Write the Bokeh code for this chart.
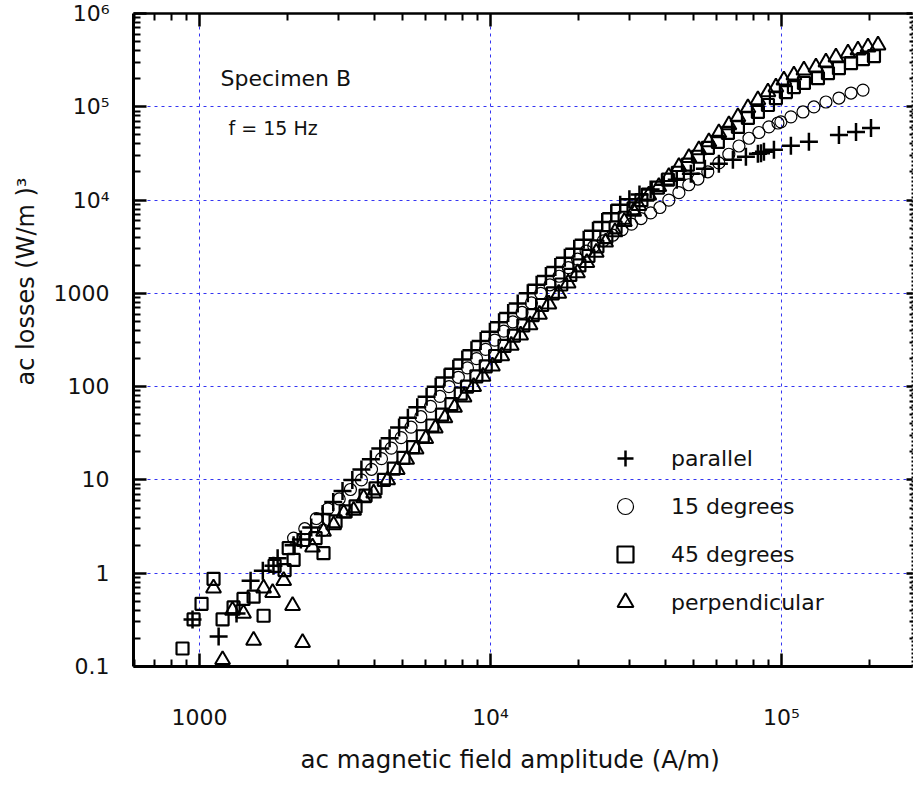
import math
from bokeh.plotting import figure
from bokeh.models import Range1d, LogAxis, FixedTicker, Label, Legend, LegendItem, Title
from bokeh.embed import file_html
from bokeh.resources import INLINE

# ---------------- data ----------------
par_H = [946, 1163, 1340, 1498, 1650, 1795, 1855, 2105, 2230, 2420, 2650, 2880, 3100, 3350,
         3600, 3880, 4180, 4500, 4850, 5200, 5600, 6030, 6480, 6950, 7450, 8000, 8600, 9250,
         9950, 10700, 11500, 12400, 13430, 14400, 15500, 16700, 18000, 19400, 20900, 22500,
         24200, 26000, 27900, 30000, 32500, 35500, 39400, 43650, 48800, 54530, 60910, 68070,
         75440, 82950, 85000, 87000, 94170, 107700, 124200, 157500, 180300, 203000]
par_P = [0.32, 0.21, 0.37, 0.83, 1.06, 1.2, 1.45, 2.0, 2.3, 3.1, 4.3, 5.8, 7.6, 10,
         12.9, 16.7, 21.7, 28.0, 36.4, 46.4, 60.1, 77.8, 100, 125, 156, 195, 245, 308,
         388, 489, 614, 778, 1000, 1233, 1535, 1919, 2402, 3006, 3753, 4680,
         5820, 7210, 8910, 10200, 11500, 13000, 14630, 16550, 19180, 21680, 24540, 27050,
         29130, 31330, 31800, 32960, 34590, 38190, 42070, 49980, 53830, 59400]

d15_H = [2105, 2300, 2520, 2667, 2760, 3020, 3300, 3600, 3900, 4220, 4560, 4930, 5330, 5760,
         6220, 6700, 7200, 7750, 8330, 8950, 9620, 10340, 11100, 11930, 12830, 13820, 14880,
         16000, 17200, 18500, 19900, 21300, 22650, 24400, 26300, 28300, 30500, 32900, 35500,
         38200, 41000, 44400, 48000, 51600, 55800, 60900, 65900, 71400, 77300, 83600, 90500,
         97200, 99500, 107700, 118500, 129200, 142100, 157500, 173300, 190500]
d15_P = [2.38, 3.0, 3.86, 2.9, 4.9, 6.25, 7.9, 10, 13.0, 16.9, 21.9, 28.4, 36.8, 47.6,
         61.5, 78.7, 100, 126, 159, 200, 251, 315, 394, 495, 624, 790, 1000,
         1235, 1525, 1885, 2330, 2840, 3200, 3660, 4200, 4810, 5520, 6340, 7280,
         8320, 10000, 12000, 14600, 16800, 20100, 25000, 31000, 38000, 46000, 53000, 61000,
         67000, 69000, 78000, 88000, 99600, 112500, 124100, 140400, 151100]

d45_H = [874, 954, 1016, 1117, 1200, 1309, 1416, 1534, 1660, 1811, 1960, 2025, 2105, 2277,
         2505, 2667, 2934, 3177, 3437, 3720, 4025, 4300, 4650, 5020, 5420, 5850, 6310, 6810,
         7340, 7900, 8300, 8940, 9630, 10370, 11170, 12030, 12960, 13960, 15040, 16370, 17500,
         18800, 20200, 21700, 23300, 25000, 26900, 28900, 31000, 33000, 34720, 37580, 40680,
         44030, 47660, 51590, 55840, 60420, 65420, 70820, 76650, 82950, 89810, 95650, 103500,
         110300, 119400, 133400, 144400, 157500, 173300, 190500, 207800]
d45_P = [0.156, 0.32, 0.47, 0.87, 0.32, 0.43, 0.53, 0.56, 0.35, 1.2, 1.08, 1.86, 1.39, 2.27,
         2.38, 1.64, 3.6, 4.6, 5.2, 6.8, 8.1, 10, 13.2, 17.2, 22.5, 29.4, 38.3, 50.0,
         65.0, 84.0, 100, 129, 165, 213, 274, 352, 453, 583, 750, 1000, 1245,
         1575, 1995, 2525, 3190, 4010, 5100, 6460, 8130, 10000, 11450, 13590, 16550,
         19630, 23930, 29130, 36300, 42070, 52490, 60800, 75900, 88100, 104500, 124100, 143900,
         162600, 180000, 202800, 229500, 259200, 293100, 323600, 348400]

perp_H = [1117, 1200, 1298, 1416, 1534, 1660, 1783, 1946, 2088, 2260, 2445, 2667, 2890, 3130,
          3385, 3663, 3966, 4432, 4780, 5150, 5550, 5990, 6460, 6970, 7520, 8110, 8750, 9420,
          10150, 10930, 11780, 12690, 13670, 14730, 15870, 17160, 18480, 19900, 21430, 23080,
          24860, 26770, 28830, 31050, 32330, 34990, 37880, 41000, 44390, 48050, 52000, 56280,
          60910, 65940, 70820, 76650, 82950, 89810, 95650, 101900, 110300, 119400, 131300,
          142100, 153800, 169200, 183100, 198200, 214600]
perp_P = [0.69, 0.118, 0.40, 0.37, 0.19, 0.69, 0.62, 0.83, 0.45, 0.18, 1.9, 2.8, 3.3, 4.4,
          4.7, 6.4, 7.2, 10, 12.9, 16.6, 21.4, 27.7, 35.8, 46.3, 59.8, 77.3, 100, 129,
          166, 214, 276, 357, 460, 594, 766, 1000, 1288, 1660, 2135, 2747,
          3539, 4560, 5865, 7550, 8700, 11300, 13900, 17820, 22800, 28440, 34590, 42070,
          52490, 63960, 77840, 97100, 118300, 143900, 162600, 193200, 218500, 247200, 266000,
          300700, 339800, 375000, 403600, 434700, 457000]

series_names = ["parallel", "15 degrees", "45 degrees", "perpendicular"]

x_major = [1000, 10000, 100000]
y_major = [0.1, 1, 10, 100, 1000, 10000, 100000, 1000000]
x_labels = {1000: "1000", 10000: "10\u2074", 100000: "10\u2075"}
y_labels = {0.1: "0.1", 1: "1", 10: "10", 100: "100", 1000: "1000",
            10000: "10\u2074", 100000: "10\u2075", 1000000: "10\u2076"}

X_LO, X_HI = 593, 281900
Y_LO, Y_HI = 0.1, 1e6

x_minor = [m * 10.0 ** e for e in range(2, 6) for m in range(2, 10) if X_LO <= m * 10.0 ** e <= X_HI]
y_minor = [m * 10.0 ** e for e in range(-1, 6) for m in range(2, 10)]

FONT = "DejaVu Sans"
XLABEL = "ac magnetic field amplitude (A/m)"
YLABEL = "ac losses (W/m )\u00b3"

p = figure(width=913, height=785, x_axis_type="log", y_axis_type="log",
           x_range=Range1d(X_LO, X_HI), y_range=Range1d(Y_LO, Y_HI),
           output_backend="svg", toolbar_location=None,
           min_border_left=133, min_border_right=1, min_border_top=13, min_border_bottom=116)
p.outline_line_color = None
p.background_fill_color = "white"
p.border_fill_color = "white"

bottom_axis = p.below[0]
left_axis = p.left[0]

for g, ticks in ((p.xgrid[0], x_major), (p.ygrid[0], y_major)):
    g.ticker = FixedTicker(ticks=ticks)
    g.grid_line_color = "#3434f2"
    g.grid_line_dash = "3 4"
    g.grid_line_width = 1
    g.minor_grid_line_color = None


def style_axis(ax, ticks, minors, labels, show, standoff):
    ax.ticker = FixedTicker(ticks=ticks, minor_ticks=minors)
    ax.axis_line_color = "black"
    ax.axis_line_width = 3
    ax.major_tick_in = 13
    ax.major_tick_out = 0
    ax.minor_tick_in = 7
    ax.minor_tick_out = 0
    ax.major_tick_line_width = 2.5
    ax.minor_tick_line_width = 2
    ax.major_tick_line_color = "black"
    ax.minor_tick_line_color = "black"
    ax.major_label_standoff = standoff
    if show:
        ax.major_label_overrides = labels
        ax.major_label_text_font = FONT
        ax.major_label_text_font_size = "22px"
        ax.major_label_text_color = "#111111"
    else:
        ax.major_label_text_font_size = "0px"
        ax.major_label_text_alpha = 0


style_axis(bottom_axis, x_major, x_minor, x_labels, True, 38)
style_axis(left_axis, y_major, y_minor, y_labels, True, 24)

top = LogAxis()
style_axis(top, x_major, x_minor, {}, False, 0)
top.axis_line_width = 2.5
p.add_layout(top, "above")

right = LogAxis()
style_axis(right, y_major, y_minor, {}, False, 0)
right.axis_line_width = 2
right.axis_line_dash = "2 2"
right.major_tick_in = 6
right.minor_tick_in = 3
p.add_layout(right, "right")

# axis titles, placed in the side panels at the reference positions
p.add_layout(Title(text=XLABEL, align="left", offset=167, vertical_align="middle",
                   text_font=FONT, text_font_size="24.5px", text_font_style="normal",
                   text_color="#111111", standoff=22), "below")
p.add_layout(Title(text=YLABEL, align="left", offset=281, vertical_align="top",
                   text_font=FONT, text_font_size="24px", text_font_style="normal",
                   text_color="#111111", standoff=18), "left")

r_par = p.scatter(par_H, par_P, marker="cross", size=18, line_color="black", line_width=2.5)
r_15 = p.scatter(d15_H, d15_P, marker="circle", size=12, line_color="black", line_width=1.2,
                 fill_color=None)
r_45 = p.scatter(d45_H, d45_P, marker="square", size=12, line_color="black", line_width=2.2,
                 fill_color=None)
r_perp = p.scatter(perp_H, perp_P, marker="triangle", size=15, line_color="black", line_width=2,
                   fill_color=None)

legend = Legend(items=[LegendItem(label=n, renderers=[r]) for n, r in
                       zip(series_names, [r_par, r_15, r_45, r_perp])],
                location=(472, 44), glyph_width=40, glyph_height=40, label_height=40,
                spacing=8, padding=0, margin=0, label_standoff=26,
                label_text_font=FONT, label_text_font_size="22px", label_text_color="#111111",
                border_line_alpha=0, background_fill_alpha=0)
p.add_layout(legend)

p.add_layout(Label(x=1180, y=2.03e5, text="Specimen B", text_font=FONT, text_font_size="22px",
                   text_color="#111111", text_align="left", text_baseline="middle"))
p.add_layout(Label(x=1258, y=59400, text="f = 15 Hz", text_font=FONT, text_font_size="19px",
                   text_color="#111111", text_align="left", text_baseline="middle"))

open("out.html", "w").write(file_html(p, INLINE))
